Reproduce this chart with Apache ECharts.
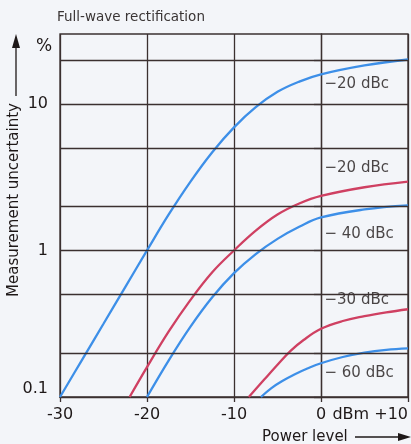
<!DOCTYPE html>
<html>
<head>
<meta charset="utf-8">
<style>
  html, body { margin: 0; padding: 0; background: #f3f5f9; }
  #chart { width: 411px; height: 444px; }
</style>
<script src="https://cdn.jsdelivr.net/npm/echarts@6/dist/echarts.min.js"></script>
</head>
<body>
<div id="chart"></div>
<script>
// Power level axis (dBm) and measurement uncertainty (%) on a log scale
const xTicks = [-30, -20, -10, 0, 10];
const yLabelValues = [0.1, 1, 10];
const yGridValues = [0.2, 0.5, 1, 2, 5, 10, 20];

// Uncertainty curves: [power level dBm, uncertainty %]
const blueMinus20 = [[-30, 0.1], [-27.5, 0.178], [-25, 0.316], [-22.5, 0.562], [-20, 1.0], [-17.5, 1.76],
  [-15, 2.95], [-12.5, 4.68], [-10, 6.92], [-7.5, 9.5], [-5, 12.1], [-2.5, 14.2], [0, 15.9], [5, 18.3], [10, 20.1]];
const redMinus20 = [[-22, 0.1], [-20, 0.16], [-17.5, 0.28], [-15, 0.46], [-12.5, 0.71], [-10, 1.0],
  [-7.5, 1.365], [-5, 1.758], [-2.5, 2.09], [0, 2.355], [5, 2.7], [10, 2.95]];
const blueMinus40 = [[-20, 0.1], [-17.5, 0.178], [-15, 0.302], [-12.5, 0.479], [-10, 0.70], [-7.5, 0.944],
  [-5, 1.2], [-2.5, 1.45], [0, 1.68], [5, 1.905], [10, 2.03]];
const redMinus30 = [[-8.3, 0.1], [-6.5, 0.132], [-5, 0.166], [-3.5, 0.2065], [-2, 0.245], [0, 0.292],
  [2.5, 0.33], [5, 0.356], [7.5, 0.378], [10, 0.397]];
const blueMinus60 = [[-6.9, 0.1], [-5.7, 0.115], [-4.5, 0.128], [-3, 0.143], [-1.5, 0.157], [0, 0.17],
  [2.5, 0.1875], [5, 0.201], [7.5, 0.21], [10, 0.215]];

// Curve annotations: [text, power level, uncertainty]
const curveLabels = [
  ['\u221220 dBc', 0.4, 13.7],
  ['\u221220 dBc', 0.4, 3.67],
  ['\u2212 40 dBc', 0.4, 1.3],
  ['\u221230 dBc', 0.4, 0.457],
  ['\u2212 60 dBc', 0.4, 0.146]
];

const BLUE = '#3d8fe8';
const RED = '#cf4062';
const INK = '#1e1818';
const GRID = '#3b3030';
const FONT = 'DejaVu Sans';

function curve(data, color) {
  return {
    type: 'line', data: data, smooth: 0.4, showSymbol: false, silent: true,
    lineStyle: { color: color, width: 2.3 }
  };
}

const chart = echarts.init(document.getElementById('chart'), null, { renderer: 'canvas' });
chart.setOption({
  backgroundColor: '#f3f5f9',
  animation: false,
  grid: { left: 60, right: 1, top: 34, bottom: 47, show: true, borderColor: GRID, borderWidth: 1.3 },
  xAxis: {
    type: 'value', min: -30, max: 10, interval: 10,
    axisLine: { show: true, lineStyle: { color: GRID, width: 1.3 } },
    axisTick: { show: true, length: 5, lineStyle: { color: GRID, width: 1.3 } },
    splitLine: { show: true, lineStyle: { color: GRID, width: 1.3 } },
    axisLabel: {
      color: INK, fontFamily: FONT, fontSize: 16, margin: 10, alignMaxLabel: 'right',
      formatter: v => v === 10 ? 'dBm +10' : (v < 0 ? '-' + Math.abs(v) : String(v))
    }
  },
  yAxis: {
    type: 'log', logBase: 10, min: 0.1, max: 30,
    axisLine: { show: true, lineStyle: { color: GRID, width: 1.3 } },
    axisTick: { show: true, length: 7, customValues: [0.1].concat(yGridValues), lineStyle: { color: GRID, width: 1.3 } },
    splitLine: { show: false },
    axisLabel: {
      customValues: yLabelValues, color: INK, fontFamily: FONT, fontSize: 16, margin: 12,
      verticalAlignMinLabel: 'bottom',
      formatter: v => String(v)
    }
  },
  series: [
    {
      type: 'line', data: [], silent: true,
      markLine: {
        silent: true, symbol: 'none', label: { show: false },
        lineStyle: { color: GRID, width: 1.3, type: 'solid' },
        data: yGridValues.map(v => ({ yAxis: v }))
      }
    },
    curve(blueMinus20, BLUE),
    curve(redMinus20, RED),
    curve(blueMinus40, BLUE),
    curve(redMinus30, RED),
    curve(blueMinus60, BLUE),
    {
      type: 'scatter', symbolSize: 0, silent: true,
      data: curveLabels.map(d => ({ name: d[0], value: [d[1], d[2]] })),
      label: {
        show: true, position: 'right', distance: 0, formatter: p => p.name,
        color: INK, fontFamily: FONT, fontSize: 15
      }
    }
  ],
  graphic: [
    { type: 'text', left: 57, top: 10, style: { text: 'Full-wave rectification', fill: '#3a3535', font: '13.5px "DejaVu Sans"' } },
    { type: 'text', x: 36, y: 47, style: { text: '%', fill: INK, font: '17px "DejaVu Sans"', verticalAlign: 'middle' } },
    { type: 'line', shape: { x1: 16, y1: 96, x2: 16, y2: 44 }, style: { stroke: INK, lineWidth: 1.3 } },
    { type: 'polygon', shape: { points: [[16, 34], [12, 48], [20, 48]] }, style: { fill: INK } },
    {
      type: 'text', x: 14, y: 200, rotation: Math.PI / 2,
      style: { text: 'Measurement uncertainty', fill: INK, font: '15px "DejaVu Sans"', align: 'center', verticalAlign: 'middle' }
    },
    { type: 'text', x: 262, y: 437, style: { text: 'Power level', fill: INK, font: '15px "DejaVu Sans"', verticalAlign: 'middle' } },
    { type: 'line', shape: { x1: 355, y1: 437, x2: 400, y2: 437 }, style: { stroke: INK, lineWidth: 1.3 } },
    { type: 'polygon', shape: { points: [[411, 437], [398, 433], [398, 441]] }, style: { fill: INK } }
  ]
});
</script>
</body>
</html>
